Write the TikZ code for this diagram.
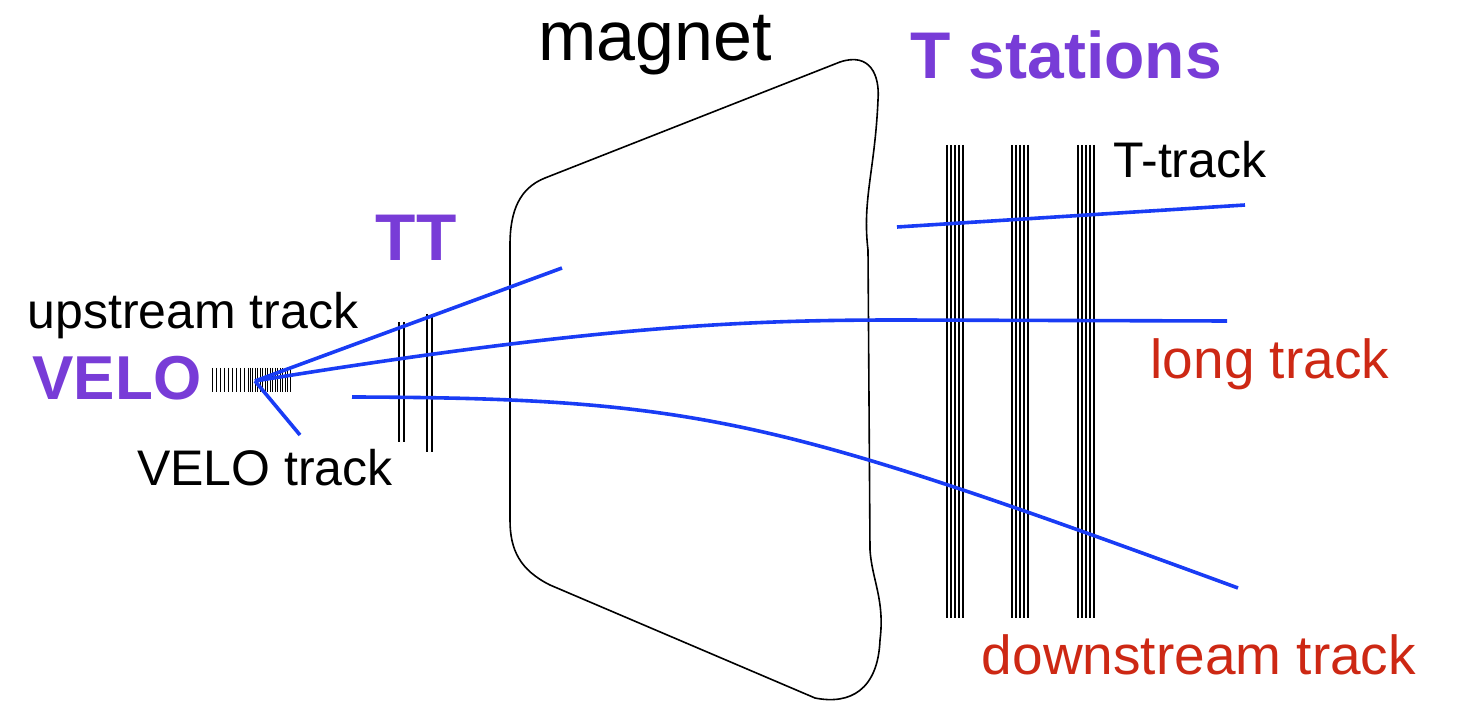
\documentclass[tikz,border=0pt]{standalone}
\usepackage{fontspec}
\setmainfont{Liberation Sans}
\definecolor{vio}{RGB}{120,60,215}
\definecolor{trkblue}{RGB}{25,60,245}
\definecolor{lred}{RGB}{205,40,20}
\begin{document}
\begin{tikzpicture}[x=0.5pt,y=-0.5pt,
  lab/.style={font=\fontsize{25}{28}\selectfont, inner sep=0},
  big/.style={font=\fontsize{33}{36}\selectfont\bfseries, text=vio, inner sep=0},
  red/.style={font=\fontsize{27.5}{30}\selectfont, text=lred, inner sep=0},
  trk/.style={draw=trkblue, line width=1.8pt},
  det/.style={line width=0.5pt}]
\useasboundingbox (0,0) rectangle (1457,716);
% magnet
\draw[line width=0.8pt] (545,178) -- (840,62) .. controls (870,52) and (880,75) .. (878,100)
  .. controls (875,170) and (862,200) .. (868,250) -- (870,550) .. controls (872,580) and (885,600) .. (880,640)
  .. controls (878,690) and (850,705) .. (815,698) -- (550,585) .. controls (520,570) and (510,550) .. (510,520)
  -- (510,245) .. controls (510,210) and (520,188) .. (545,178);
% VELO stations
\foreach \x in {212,216,...,248} \draw[det] (\x,368) -- (\x,392);
\foreach \x in {250,252.5,...,292} \draw[det] (\x,368) -- (\x,392);
% TT
\foreach \x in {399,404,427,432} \draw[line width=1.2pt] (\x,{\x<420?322:314}) -- (\x,{\x<420?442:452});
% T stations
\foreach \s in {947,1012,1078}{
  \foreach \d in {0,4,8,12,16} \draw[line width=0.8pt] (\s+\d,145) -- (\s+\d,618);}
% tracks
\coordinate (pv) at (255,381);
\coordinate (up) at (562,268);
\coordinate (vt) at (300,435);
\coordinate (ls) at (1227,321);
\coordinate (ds0) at (352,397);
\coordinate (ds1) at (1238,588);
\coordinate (tt0) at (897,227);
\coordinate (tt1) at (1245,205);
\draw[trk] (pv) -- (up);
\draw[trk] (pv) -- (vt);
\draw[trk] (pv) .. controls (600,325) and (750,320) .. (900,320) -- (ls);
\draw[trk] (ds0) .. controls (700,398) and (780,420) .. (ds1);
\draw[trk] (tt0) -- (tt1);
% labels
\node[lab,font=\fontsize{35}{38}\selectfont] (mag) at (655,45) {magnet};
\node[big] (ts) at (1066,55) {T stations};
\node[lab] (ttk) at (1190,160) {T-track};
\node[big] (tt) at (416,238) {TT};
\node[big,font=\fontsize{31}{34}\selectfont\bfseries] (velo) at (117,378) {VELO};
\node[lab] (ups) at (193,316) {upstream track};
\node[lab] (vtl) at (265,468) {VELO track};
\node[red] (lt) at (1270,364) {long track};
\node[red] (dt) at (1199,655) {downstream track};
\end{tikzpicture}
\end{document}
